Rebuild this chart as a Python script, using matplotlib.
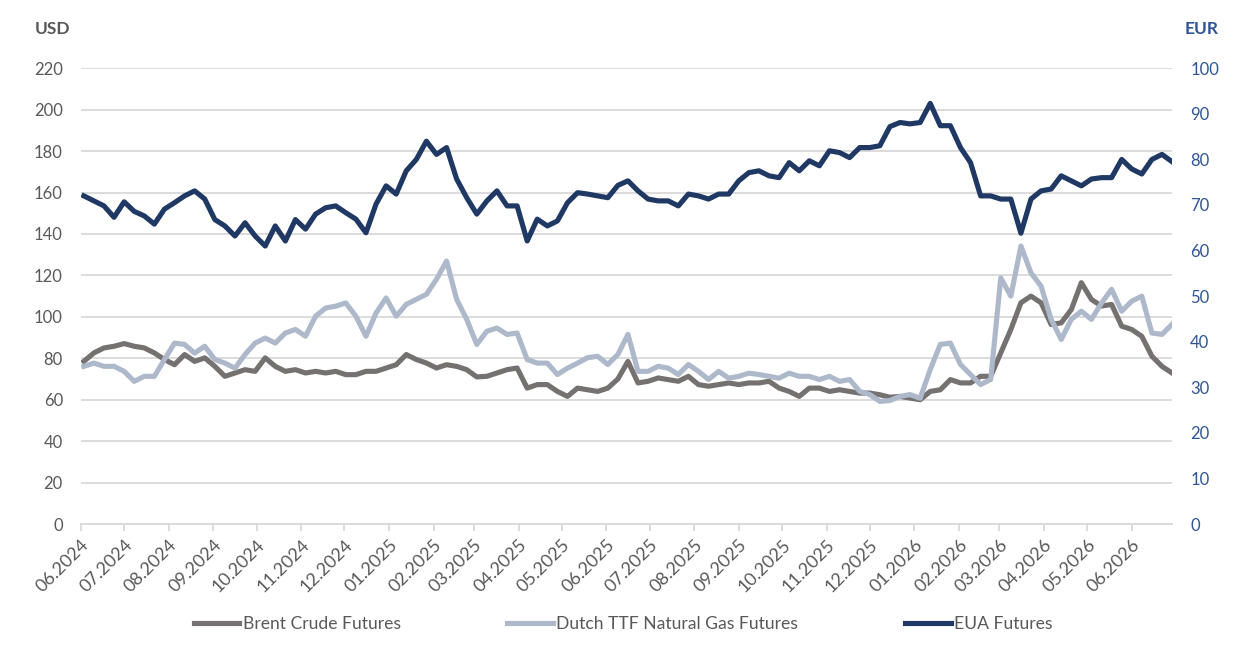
import matplotlib
matplotlib.use("Agg")
import matplotlib.pyplot as plt
import matplotlib.dates as mdates
import pandas as pd
import numpy as np

plt.rcParams['font.family'] = ['Lato', 'DejaVu Sans']

# Weekly readings, 03.06.2024 - 29.06.2026
dates = pd.date_range('2024-06-03', periods=109, freq='7D')

# Brent crude futures, USD/bbl (left axis)
brent = [78.5, 82.6, 85.0, 85.8, 87.1, 85.8, 85.0, 82.6, 79.4, 76.9,
         81.8, 78.5, 80.2, 76.1, 71.3, 72.9, 74.5, 73.7, 80.2, 76.1,
         73.7, 74.5, 72.9, 73.7, 72.9, 73.7, 72.1, 72.1, 73.7, 73.7,
         75.3, 76.9, 81.8, 79.4, 77.7, 75.3, 76.9, 76.1, 74.5, 71.0,
         71.3, 72.9, 74.5, 75.3, 65.6, 67.3, 67.3, 64.0, 61.6, 65.6,
         64.8, 64.0, 65.6, 70.0, 78.5, 68.1, 68.9, 70.5, 69.7, 68.9,
         71.3, 67.3, 66.5, 67.3, 68.1, 67.3, 68.1, 68.1, 68.9, 65.6,
         64.0, 61.6, 65.6, 65.6, 64.0, 64.8, 64.0, 63.2, 63.2, 62.4,
         61.2, 61.6, 60.8, 60.0, 64.0, 64.8, 69.7, 68.1, 68.1, 71.3,
         71.3, 82.6, 93.9, 106.8, 110.0, 106.8, 96.3, 97.1, 103.5, 116.5,
         108.4, 105.2, 106.0, 95.5, 93.9, 90.6, 81.0, 76.1, 72.9]

# Dutch TTF natural gas futures, EUR/MWh (right axis)
ttf = [34.6, 35.3, 34.6, 34.6, 33.5, 31.3, 32.4, 32.4, 36.1, 39.7,
       39.4, 37.5, 39.0, 36.1, 35.3, 34.2, 37.2, 39.7, 40.8, 39.7,
       41.9, 42.7, 41.2, 45.6, 47.4, 47.8, 48.5, 45.6, 41.2, 46.3,
       49.6, 45.6, 48.2, 49.3, 50.4, 53.7, 57.7, 49.3, 44.9, 39.4,
       42.3, 43.0, 41.6, 41.9, 36.1, 35.3, 35.3, 32.8, 34.2, 35.3,
       36.5, 36.8, 35.0, 37.2, 41.6, 33.5, 33.5, 34.6, 34.2, 32.8,
       35.0, 33.5, 31.7, 33.5, 32.0, 32.4, 33.1, 32.8, 32.4, 32.0,
       33.1, 32.4, 32.4, 31.7, 32.4, 31.3, 31.7, 29.1, 28.4, 26.9,
       27.1, 28.0, 28.4, 27.6, 33.9, 39.4, 39.7, 35.0, 32.8, 30.6,
       31.7, 54.0, 50.0, 61.0, 55.1, 52.2, 44.9, 40.5, 44.9, 46.7,
       44.9, 48.5, 51.5, 46.7, 48.9, 50.0, 41.9, 41.6, 43.8]

# EUA futures, EUR/t (right axis)
eua = [72.0, 70.9, 69.8, 67.3, 70.7, 68.6, 67.6, 65.8, 69.1, 70.5,
       72.0, 73.1, 71.3, 66.8, 65.4, 63.2, 66.1, 63.2, 61.0, 65.4,
       62.1, 66.8, 64.7, 68.0, 69.4, 69.8, 68.3, 66.9, 63.9, 70.2,
       74.2, 72.4, 77.5, 80.0, 84.0, 81.1, 82.6, 75.7, 71.6, 68.0,
       70.9, 73.1, 69.8, 69.8, 62.1, 66.9, 65.4, 66.5, 70.5, 72.7,
       72.4, 72.0, 71.6, 74.3, 75.3, 73.1, 71.3, 70.9, 70.9, 69.8,
       72.4, 72.0, 71.3, 72.4, 72.4, 75.3, 77.1, 77.5, 76.4, 76.0,
       79.3, 77.5, 79.7, 78.6, 81.9, 81.5, 80.4, 82.6, 82.6, 83.0,
       87.2, 88.1, 87.8, 88.1, 92.3, 87.4, 87.4, 82.6, 79.3, 72.0,
       72.0, 71.3, 71.3, 63.8, 71.3, 73.1, 73.5, 76.4, 75.3, 74.2,
       75.7, 76.0, 76.0, 80.0, 77.9, 76.8, 80.0, 81.1, 79.5]

grey_txt = '#595959'
blue_txt = '#2F5597'

fig = plt.figure(figsize=(12.34, 6.49), dpi=100)
ax = fig.add_axes([0.0656, 0.1926, 0.8842, 0.7022])
ax2 = ax.twinx()

l1, = ax.plot(dates, brent, color='#767171', lw=3.7, solid_joinstyle='round')
l2, = ax2.plot(dates, ttf, color='#ADB9CA', lw=3.7, solid_joinstyle='round')
l3, = ax2.plot(dates, eua, color='#1F3864', lw=3.7, solid_joinstyle='round')

ax.set_ylim(0, 220)
ax.set_yticks(np.arange(0, 221, 20))
ax2.set_ylim(0, 100)
ax2.set_yticks(np.arange(0, 101, 10))
ax.set_xlim(pd.Timestamp('2024-06-01'), pd.Timestamp('2026-06-29'))

ax.grid(axis='y', color='#D9D9D9', lw=1.3)
ax.set_axisbelow(True)

for a in (ax, ax2):
    for s in a.spines.values():
        s.set_visible(False)
ax.spines['bottom'].set_visible(True)
ax.spines['bottom'].set_color('#D9D9D9')
ax.spines['bottom'].set_linewidth(1.3)

ax.tick_params(axis='y', length=0, pad=13, labelsize=12, labelcolor=grey_txt)
ax2.tick_params(axis='y', length=0, pad=13, labelsize=12, labelcolor=blue_txt)

ax.xaxis.set_major_locator(mdates.MonthLocator())
ax.xaxis.set_major_formatter(mdates.DateFormatter('%m.%Y'))
ax.tick_params(axis='x', length=5, color='#D9D9D9', width=1.3, pad=4,
               labelsize=13, labelcolor=grey_txt)
for lab in ax.get_xticklabels():
    lab.set_rotation(45)
    lab.set_ha('right')
    lab.set_va('top')
    lab.set_rotation_mode('anchor')

fig.text(0.028, 0.955, 'USD', fontsize=12.5, fontweight='bold', color=grey_txt, va='center')
fig.text(0.960, 0.955, 'EUR', fontsize=12.5, fontweight='bold', color=blue_txt, va='center')

fig.legend([l1, l2, l3], ['Brent Crude Futures', 'Dutch TTF Natural Gas Futures', 'EUA Futures'],
           loc='center', bbox_to_anchor=(0.505, 0.038), ncol=3, frameon=False,
           fontsize=12.6, handlelength=2.6, handletextpad=0.2, columnspacing=6.1,
           labelcolor=grey_txt)

fig.savefig('out.png', dpi=100)
